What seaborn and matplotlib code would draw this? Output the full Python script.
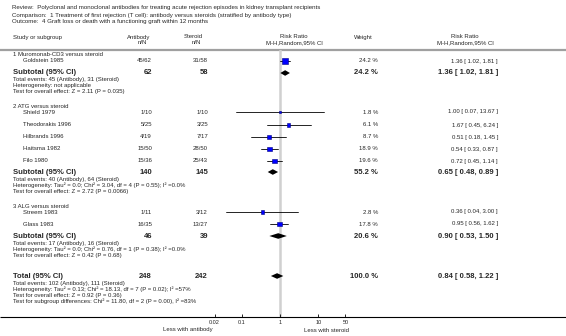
# Forest plot: antibody versus steroids, graft loss or death within 12 months

import pandas as pd
import numpy as np
import matplotlib
matplotlib.use('Agg')
import matplotlib.pyplot as plt
import seaborn as sns

# study level data
studies = ['Goldstein 1985', 'Shield 1979', 'Theodorakis 1996', 'Hilbrands 1996',
           'Haitsma 1982', 'Filo 1980', 'Streem 1983', 'Glass 1983']
group = [1, 2, 2, 2, 2, 2, 3, 3]
antibody_nN = ['45/62', '1/10', '5/25', '4/19', '15/50', '15/36', '1/11', '16/35']
steroid_nN = ['31/58', '1/10', '3/25', '7/17', '28/50', '25/43', '3/12', '13/27']
weight = [24.2, 1.8, 6.1, 8.7, 18.9, 19.6, 2.8, 17.8]
rr = [1.36, 1.00, 1.67, 0.51, 0.54, 0.72, 0.36, 0.95]
rr_lo = [1.02, 0.07, 0.45, 0.18, 0.33, 0.45, 0.04, 0.56]
rr_hi = [1.81, 13.67, 6.24, 1.45, 0.87, 1.14, 3.00, 1.62]

# subgroup / total data
sub_names = ['1 Muromonab-CD3 versus steroid', '2 ATG versus steroid', '3 ALG versus steroid']
sub_ab_n = [62, 140, 46]
sub_st_n = [58, 145, 39]
sub_weight = [24.2, 55.2, 20.6]
sub_rr = [1.36, 0.65, 0.90]
sub_lo = [1.02, 0.48, 0.53]
sub_hi = [1.81, 0.89, 1.50]
sub_notes = [
    ['Total events: 45 (Antibody), 31 (Steroid)',
     'Heterogeneity: not applicable',
     'Test for overall effect: Z = 2.11 (P = 0.035)'],
    ['Total events: 40 (Antibody), 64 (Steroid)',
     'Heterogeneity: Tau² = 0.0; Chi² = 3.04, df = 4 (P = 0.55); I² =0.0%',
     'Test for overall effect: Z = 2.72 (P = 0.0066)'],
    ['Total events: 17 (Antibody), 16 (Steroid)',
     'Heterogeneity: Tau² = 0.0; Chi² = 0.76, df = 1 (P = 0.38); I² =0.0%',
     'Test for overall effect: Z = 0.42 (P = 0.68)'],
]
total_ab_n = 248
total_st_n = 242
total_rr = 0.84
total_lo = 0.58
total_hi = 1.22
total_notes = ['Total events: 102 (Antibody), 111 (Steroid)',
               'Heterogeneity: Tau² = 0.13; Chi² = 18.13, df = 7 (P = 0.02); I² =57%',
               'Test for overall effect: Z = 0.92 (P = 0.36)',
               'Test for subgroup differences: Chi² = 11.80, df = 2 (P = 0.00), I² =83%']

header_lines = [
    'Review:  Polyclonal and monoclonal antibodies for treating acute rejection episodes in kidney transplant recipients',
    'Comparison:  1 Treatment of first rejection (T cell): antibody versus steroids (stratified by antibody type)',
    'Outcome:  4 Graft loss or death with a functioning graft within 12 months',
]
ticks = [0.02, 0.1, 1, 10, 50]
tick_labels = ['0.02', '0.1', '1', '10', '50']

sns.set_theme(style='white')
plt.rcParams['font.family'] = ['Liberation Sans', 'DejaVu Sans']

W, H = 566, 336
fig = plt.figure(figsize=(W / 100, H / 100), dpi=100)
fig.patch.set_facecolor('white')

# background axes in pixel units for all the text
bg = fig.add_axes([0, 0, 1, 1])
bg.set_xlim(0, W)
bg.set_ylim(H, 0)
bg.axis('off')

small = 4.35
big = 5.5
col_ab = 152
col_st = 208
col_w = 378
col_ci = 498
x_left = 13
x_study = 23

# forest axes: log scale, 0.02 .. 50 between pixel 214.6 and 345.4, rows 50 .. 317
y_top, y_axis = 50, 317
x0, x1 = 214.6, 345.4
ax = fig.add_axes([x0 / W, 1 - y_axis / H, (x1 - x0) / W, (y_axis - y_top) / H])
ax.set_xscale('log')
ax.set_xlim(0.02, 50)
ax.set_ylim(y_axis, y_top)
ax.patch.set_alpha(0)
for s in ax.spines.values():
    s.set_visible(False)
ax.set_yticks([])
ax.set_xticks(ticks)
ax.set_xticklabels(tick_labels)
ax.minorticks_off()
ax.tick_params(axis='x', direction='in', length=2.5, width=0.6, color='black',
               labelsize=4.0, pad=2.5, bottom=True)

# titles
for i, line in enumerate(header_lines):
    bg.text(12, 8 + i * 7, line, fontsize=4.45, va='center', ha='left')

# column headers
bg.text(x_left, 37, 'Study or subgroup', fontsize=small, va='center')
bg.text(139, 37, 'Antibody', fontsize=small, va='center', ha='center')
bg.text(142, 43, 'n/N', fontsize=small, va='center', ha='center')
bg.text(193, 37, 'Steroid', fontsize=small, va='center', ha='center')
bg.text(196, 43, 'n/N', fontsize=small, va='center', ha='center')
bg.text(294, 37, 'Risk Ratio', fontsize=small, va='center', ha='center')
bg.text(294, 43, 'M-H,Random,95% CI', fontsize=small, va='center', ha='center')
bg.text(363, 37, 'Weight', fontsize=small, va='center', ha='center')
bg.text(465, 37, 'Risk Ratio', fontsize=small, va='center', ha='center')
bg.text(465, 43, 'M-H,Random,95% CI', fontsize=small, va='center', ha='center')

bg.plot([0, W], [y_top, y_top], color='#a0a0a0', lw=1.6, solid_capstyle='butt')
bg.plot([0, W], [y_axis, y_axis], color='black', lw=0.8, solid_capstyle='butt')

# row layout
study_y = [61, 112, 125, 137, 149, 161, 212, 224]
sub_title_y = [55, 106, 206]
sub_y = [73, 172, 236]
total_y = 276

# line of no effect
ax.plot([1, 1], [y_top, y_axis], color='#d0d0d0', lw=1.8, zorder=0)

# study rows
for i in range(len(studies)):
    y = study_y[i]
    bg.text(x_study, y, studies[i], fontsize=small, va='center')
    bg.text(col_ab, y, antibody_nN[i], fontsize=small, va='center', ha='right')
    bg.text(col_st, y, steroid_nN[i], fontsize=small, va='center', ha='right')
    bg.text(col_w, y, f'{weight[i]:.1f} %', fontsize=small, va='center', ha='right')
    bg.text(col_ci, y, f'{rr[i]:.2f} [ {rr_lo[i]:.2f}, {rr_hi[i]:.2f} ]',
            fontsize=small, va='center', ha='right')
    ax.plot([rr_lo[i], rr_hi[i]], [y, y], color='black', lw=0.6, zorder=2)

# squares sized by weight
df = pd.DataFrame({'rr': rr, 'y': study_y, 'weight': weight})
df['area'] = (0.72 * (2.0 + 3.3 * np.sqrt(df['weight'] / 24.2))) ** 2
sns.scatterplot(data=df, x='rr', y='y', size='area',
                sizes=(df['area'].min(), df['area'].max()),
                size_norm=(df['area'].min(), df['area'].max()),
                marker='s', color='#0000ff', edgecolor='#000080', linewidth=0.4,
                legend=False, ax=ax, zorder=3)
ax.set_xlabel('')
ax.set_ylabel('')


def diamond(est, lo, hi, y, h=2.8):
    ax.fill([lo, est, hi, est], [y, y - h, y, y + h], color='black', lw=0, zorder=3)


# subgroup rows
for g in range(3):
    bg.text(x_left, sub_title_y[g], sub_names[g], fontsize=small, va='center')
    y = sub_y[g]
    bg.text(x_left, y, 'Subtotal (95% CI)', fontsize=big, fontweight='bold', va='center')
    bg.text(col_ab, y, str(sub_ab_n[g]), fontsize=big, fontweight='bold', va='center', ha='right')
    bg.text(col_st, y, str(sub_st_n[g]), fontsize=big, fontweight='bold', va='center', ha='right')
    bg.text(col_w, y, f'{sub_weight[g]:.1f} %', fontsize=big, fontweight='bold',
            va='center', ha='right')
    bg.text(col_ci, y, f'{sub_rr[g]:.2f} [ {sub_lo[g]:.2f}, {sub_hi[g]:.2f} ]',
            fontsize=big, fontweight='bold', va='center', ha='right')
    diamond(sub_rr[g], sub_lo[g], sub_hi[g], y)
    for k, note in enumerate(sub_notes[g]):
        bg.text(x_left, y + 7 + k * 6, note, fontsize=small, va='center')

# total row
bg.text(x_left, total_y, 'Total (95% CI)', fontsize=big, fontweight='bold', va='center')
bg.text(col_ab, total_y, str(total_ab_n), fontsize=big, fontweight='bold', va='center', ha='right')
bg.text(col_st, total_y, str(total_st_n), fontsize=big, fontweight='bold', va='center', ha='right')
bg.text(col_w, total_y, '100.0 %', fontsize=big, fontweight='bold', va='center', ha='right')
bg.text(col_ci, total_y, f'{total_rr:.2f} [ {total_lo:.2f}, {total_hi:.2f} ]',
        fontsize=big, fontweight='bold', va='center', ha='right')
diamond(total_rr, total_lo, total_hi, total_y)
for k, note in enumerate(total_notes):
    bg.text(x_left, total_y + 7 + k * 6, note, fontsize=small, va='center')

# direction labels
bg.text(213, 330, 'Less with antibody', fontsize=small, va='center', ha='right')
bg.text(304, 330, 'Less with steroid', fontsize=small, va='center', ha='left')

fig.savefig('out.png', dpi=100, facecolor='white')
